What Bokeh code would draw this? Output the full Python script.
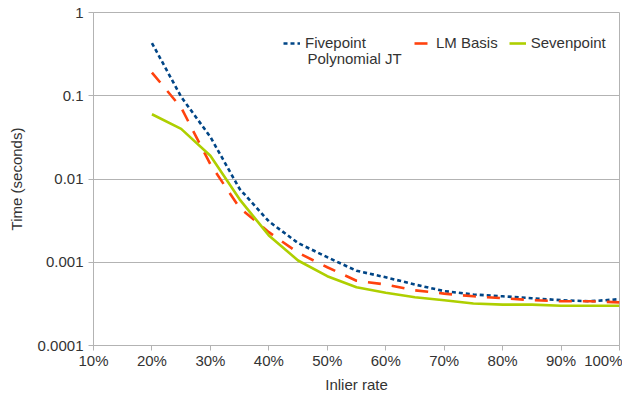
from bokeh.plotting import figure
from bokeh.models import Legend, LegendItem, FixedTicker, Range1d, Label
from bokeh.embed import file_html
from bokeh.resources import INLINE

inlier = [20, 25, 30, 35, 40, 45, 50, 55, 60, 65, 70, 75, 80, 85, 90, 95, 100]
fivepoint = [0.43, 0.097, 0.032, 0.0076, 0.0031, 0.0017, 0.00115, 0.00079, 0.00066, 0.00054,
             0.00045, 0.00041, 0.00039, 0.00037, 0.00035, 0.00034, 0.00036]
lm_basis = [0.19, 0.072, 0.015, 0.0045, 0.0023, 0.0013, 0.00087, 0.0006, 0.00054, 0.00046,
            0.00042, 0.00039, 0.00037, 0.00035, 0.00034, 0.00034, 0.00033]
sevenpoint = [0.060, 0.040, 0.019, 0.0057, 0.0021, 0.00105, 0.00068, 0.0005, 0.00043, 0.00038,
              0.00035, 0.00032, 0.00031, 0.00031, 0.0003, 0.0003, 0.0003]

x_ticks = [10, 20, 30, 40, 50, 60, 70, 80, 90, 100]
x_tick_labels = ["10%", "20%", "30%", "40%", "50%", "60%", "70%", "80%", "90%", "100%"]
y_ticks = [0.0001, 0.001, 0.01, 0.1, 1]
y_tick_labels = ["0.0001", "0.001", "0.01", "0.1", "1"]

FONT = "Liberation Sans"
GRID = "#b3b3b3"
TXT = "#333333"
FS = "15px"

p = figure(frame_width=526, frame_height=333, y_axis_type="log",
           x_range=Range1d(10, 100), y_range=Range1d(0.0001, 1),
           output_backend="svg", toolbar_location=None,
           min_border_left=93, min_border_right=3, min_border_top=12, min_border_bottom=36)

p.outline_line_color = GRID
p.background_fill_color = "white"
p.border_fill_color = "white"

p.xgrid.visible = False
p.ygrid.grid_line_color = GRID
p.ygrid.grid_line_width = 1

for ax in (p.xaxis[0], p.yaxis[0]):
    ax.axis_line_color = GRID
    ax.major_tick_line_color = GRID
    ax.major_tick_in = 0
    ax.major_tick_out = 5
    ax.minor_tick_line_color = None
    ax.major_label_text_font = FONT
    ax.major_label_text_font_size = FS
    ax.major_label_text_color = TXT
    ax.axis_label_text_font = FONT
    ax.axis_label_text_font_size = FS
    ax.axis_label_text_font_style = "normal"
    ax.axis_label_text_color = TXT

p.xaxis[0].ticker = FixedTicker(ticks=x_ticks)
p.xaxis[0].major_label_overrides = {t: l for t, l in zip(x_ticks, x_tick_labels)}
p.xaxis[0].axis_label = "Inlier rate"
p.xaxis[0].major_label_standoff = 1
p.xaxis[0].axis_label_standoff = 4

p.yaxis[0].ticker = FixedTicker(ticks=y_ticks)
p.yaxis[0].major_label_overrides = {t: l for t, l in zip(y_ticks, y_tick_labels)}
p.yaxis[0].axis_label = "Time (seconds)"
p.yaxis[0].major_label_standoff = 5
p.yaxis[0].axis_label_standoff = 10

r1 = p.line(inlier, fivepoint, line_color="#004586", line_width=2.6, line_dash="4 3")
r2 = p.line(inlier, lm_basis, line_color="#ff420e", line_width=2.6, line_dash="13 11")
r3 = p.line(inlier, sevenpoint, line_color="#aecf00", line_width=2.6)

leg_style = dict(orientation="horizontal", background_fill_alpha=0, border_line_color=None,
                 label_text_font=FONT, label_text_font_size=FS, label_text_color=TXT,
                 glyph_width=17, glyph_height=14, label_standoff=5, spacing=11,
                 padding=2, margin=0)

legend_a = Legend(items=[LegendItem(label="Fivepoint", renderers=[r1])],
                  location=(190, 294), **leg_style)
legend_b = Legend(items=[LegendItem(label="LM Basis", renderers=[r2]),
                         LegendItem(label="Sevenpoint", renderers=[r3])],
                  location=(321, 294), **leg_style)
p.add_layout(legend_a)
p.add_layout(legend_b)

p.add_layout(Label(x=214, y=287, x_units="screen", y_units="screen", text="Polynomial JT",
                   text_font=FONT, text_font_size=FS, text_color=TXT,
                   text_baseline="middle", text_align="left"))

open("out.html", "w").write(file_html(p, INLINE))
